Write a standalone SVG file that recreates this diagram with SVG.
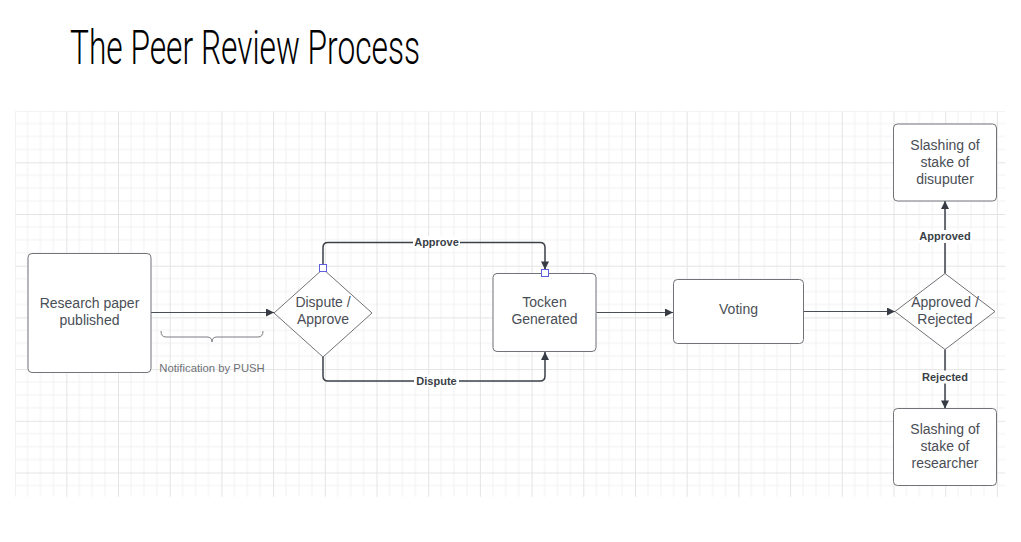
<svg xmlns="http://www.w3.org/2000/svg" width="1021" height="542" viewBox="0 0 1021 542">
  <defs>
    <pattern id="grid" patternUnits="userSpaceOnUse" x="14.6" y="110.6" width="51.7" height="51.7">
      <path d="M12.925,0V51.7M25.85,0V51.7M38.775,0V51.7M0,12.925H51.7M0,25.85H51.7M0,38.775H51.7" stroke="#f2f2f2" stroke-width="1" fill="none"/>
      <path d="M0.5,0V51.7M0,0.5H51.7" stroke="#e4e4e4" stroke-width="1" fill="none"/>
    </pattern>
    <marker id="arr" viewBox="0 0 10 10" refX="10" refY="5" markerUnits="userSpaceOnUse" markerWidth="9" markerHeight="8" orient="auto">
      <path d="M0,0L10,5L0,10z" fill="#363b44"/>
    </marker>
  </defs>
  <style>
    .node { fill: #ffffff; stroke: #717378; stroke-width: 1; stroke-linejoin: round; }
    .txt { font-family: "Liberation Sans", Arial, sans-serif; font-size: 14px; fill: #4a4e56; text-anchor: middle; }
    .lbl { font-family: "Liberation Sans", Arial, sans-serif; font-size: 11px; font-weight: bold; fill: #3a3f47; text-anchor: middle; }
    .conn { fill: none; stroke: #3b4049; stroke-width: 1.5; }
    .thin { fill: none; stroke: #4a4f57; stroke-width: 1; }
    .handle { fill: #ffffff; stroke: #6060dc; stroke-width: 1; }
  </style>
  <rect width="1021" height="542" fill="#ffffff"/>
  <rect x="15.2" y="111.3" width="990" height="385.5" fill="url(#grid)"/>
  <text x="70" y="63.5" font-family="Roboto, 'DejaVu Sans Condensed', sans-serif" font-weight="300" font-size="48" fill="#000000" textLength="350" lengthAdjust="spacingAndGlyphs">The Peer Review Process</text>

  <g id="connectors">
    <path class="thin" d="M151,312.5H274" marker-end="url(#arr)"/>
    <path class="conn" d="M323,268V247.5Q323,242.5 328,242.5H540Q545,242.5 545,247.5V269.5" marker-end="url(#arr)"/>
    <path class="conn" d="M323,357V376Q323,381 328,381H540Q545,381 545,376V352" marker-end="url(#arr)"/>
    <path class="thin" d="M596.5,312.5H673" marker-end="url(#arr)"/>
    <path class="thin" d="M803.5,311.5H895" marker-end="url(#arr)"/>
    <path class="conn" d="M945,273.5V201" marker-end="url(#arr)"/>
    <path class="conn" d="M945,349.5V408.5" marker-end="url(#arr)"/>
    <rect x="413" y="236" width="47" height="12" fill="#ffffff"/>
    <text class="lbl" x="436.5" y="246">Approve</text>
    <rect x="414" y="375" width="45" height="12" fill="#ffffff"/>
    <text class="lbl" x="436.5" y="385">Dispute</text>
    <rect x="918" y="230" width="54" height="13" fill="#ffffff"/>
    <text class="lbl" x="945" y="240">Approved</text>
    <rect x="920" y="370.5" width="50" height="13" fill="#ffffff"/>
    <text class="lbl" x="945" y="380.5">Rejected</text>
    <path d="M161,331Q161,337 166,337H207Q212,337 212,342Q212,337 217,337H258Q263,337 263,331" fill="none" stroke="#7a7d82" stroke-width="1"/>
    <text x="212" y="372" font-family="'Liberation Sans', Arial, sans-serif" font-size="11.3" fill="#6e7177" text-anchor="middle">Notification by PUSH</text>
  </g>

  <g id="research">
    <rect class="node" x="28" y="253.5" width="123" height="119" rx="4"/>
    <text class="txt" x="89.5" y="308">Research paper</text>
    <text class="txt" x="89.5" y="325">published</text>
  </g>
  <g id="dispute-approve">
    <path class="node" d="M323,269L372,313L323,357L274,313Z"/>
    <text class="txt" x="323" y="307">Dispute /</text>
    <text class="txt" x="323" y="324">Approve</text>
    <rect class="handle" x="319.5" y="264.5" width="7" height="7"/>
  </g>
  <g id="tocken">
    <rect class="node" x="493" y="273.5" width="103" height="78" rx="4"/>
    <text class="txt" x="544.5" y="307">Tocken</text>
    <text class="txt" x="544.5" y="324">Generated</text>
    <rect class="handle" x="541.5" y="269.5" width="7" height="7"/>
  </g>
  <g id="voting">
    <rect class="node" x="673.5" y="279.5" width="130" height="64" rx="4"/>
    <text class="txt" x="738.5" y="314">Voting</text>
  </g>
  <g id="approved-rejected">
    <path class="node" d="M945,273.5L995,311.5L945,349.5L895,311.5Z"/>
    <text class="txt" x="945" y="306.5">Approved /</text>
    <text class="txt" x="945" y="323.5">Rejected</text>
  </g>
  <g id="slash-disputer">
    <rect class="node" x="893.5" y="124" width="103" height="77" rx="4"/>
    <text class="txt" x="945" y="149.5">Slashing of</text>
    <text class="txt" x="945" y="166.5">stake of</text>
    <text class="txt" x="945" y="183.5">disuputer</text>
  </g>
  <g id="slash-researcher">
    <rect class="node" x="893.5" y="408.5" width="103" height="77" rx="4"/>
    <text class="txt" x="945" y="434">Slashing of</text>
    <text class="txt" x="945" y="451">stake of</text>
    <text class="txt" x="945" y="468">researcher</text>
  </g>
</svg>
